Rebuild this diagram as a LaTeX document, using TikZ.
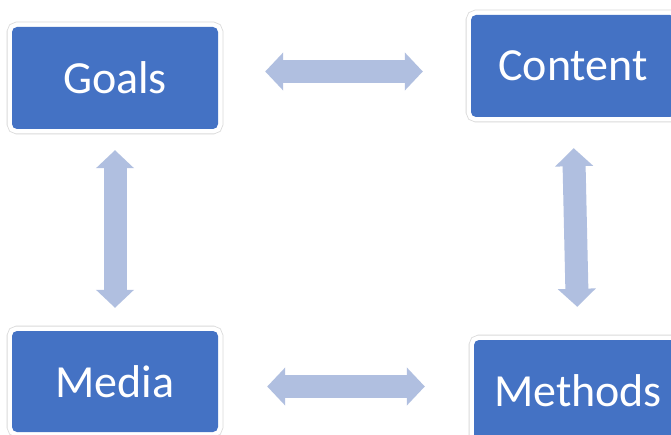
\documentclass[tikz,border=0pt]{standalone}
\usepackage{fontspec}
\setmainfont{Carlito}
\usepackage{xcolor}
\usetikzlibrary{arrows.meta, calc, positioning}

\definecolor{boxblue}{HTML}{4472C4}
\definecolor{arrowblue}{HTML}{B0BFE0}
\definecolor{rimgray}{HTML}{DADADA}

\begin{document}
\begin{tikzpicture}[x=1pt, y=-1pt,
  block/.style={fill=boxblue, rounded corners=5pt, text=white,
    font=\fontsize{46}{50}\selectfont, inner sep=0pt,
    preaction={draw=rimgray, line width=0.8pt, double=white, double distance=9pt}},
  twoway/.style={arrowblue, line width=23pt,
    {Triangle[length=18pt, width=37pt]}-{Triangle[length=18pt, width=37pt]}}]
\useasboundingbox[fill=white] (0,0) rectangle (671,435);

\node[block, minimum width=206pt, minimum height=102pt] (goals) at (115,78) {Goals};
\node[block, minimum width=204pt, minimum height=102pt] (content) at (573,66) {Content};
\node[block, minimum width=206pt, minimum height=101pt] (media) at (115,381.5) {Media};
\node[block, minimum width=208pt, minimum height=102pt] (methods) at (578,391) {Methods};

% connectors
\draw[twoway, shorten <=47pt, shorten >=48pt] ([yshift=6.5pt]goals.east) -- ([yshift=-5.5pt]content.west);
\draw[twoway, shorten <=21pt, shorten >=23pt] (goals.south) -- (media.north);
\draw[twoway, shorten <=31pt, shorten >=33pt] (content.south) -- (methods.north);
\draw[twoway, shorten <=49pt, shorten >=49pt] ([yshift=-5pt]media.east) -- ([yshift=4.5pt]methods.west);
\end{tikzpicture}
\end{document}
